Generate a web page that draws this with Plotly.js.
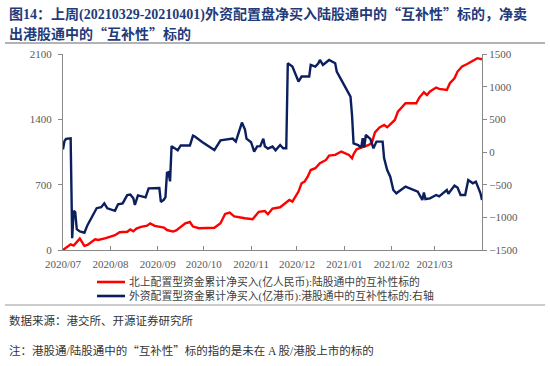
<!DOCTYPE html>
<html>
<head>
<meta charset="utf-8">
<script src="https://cdn.plot.ly/plotly-3.0.1.min.js"></script>
<style>html,body{margin:0;padding:0;background:#fff;}#chart{width:550px;height:366px;}</style>
</head>
<body>
<div id="chart"></div>
<script>
// ---- Data ----
const redDates = ["2020-07-01","2020-07-04","2020-07-06","2020-07-08","2020-07-10","2020-07-12","2020-07-15","2020-07-17","2020-07-22","2020-07-24","2020-07-29",
"2020-08-04","2020-08-07","2020-08-12","2020-08-14","2020-08-16","2020-08-18","2020-08-21","2020-08-25","2020-08-27","2020-08-30",
"2020-09-02","2020-09-05","2020-09-07","2020-09-11","2020-09-13","2020-09-15","2020-09-19","2020-09-22","2020-09-24","2020-09-28",
"2020-10-08","2020-10-12","2020-10-15","2020-10-18","2020-10-21","2020-10-28",
"2020-11-02","2020-11-06","2020-11-10","2020-11-12","2020-11-15","2020-11-20","2020-11-23","2020-11-26","2020-11-28",
"2020-12-02","2020-12-04","2020-12-06","2020-12-08","2020-12-10","2020-12-13","2020-12-16","2020-12-20","2020-12-22","2020-12-26","2020-12-30",
"2021-01-04","2021-01-06","2021-01-07","2021-01-09","2021-01-12","2021-01-17","2021-01-19","2021-01-21","2021-01-24","2021-01-27","2021-01-29",
"2021-02-01","2021-02-03","2021-02-05","2021-02-08","2021-02-10","2021-02-17","2021-02-19","2021-02-22","2021-02-24","2021-02-26","2021-02-28",
"2021-03-02","2021-03-04","2021-03-09","2021-03-11","2021-03-14","2021-03-16","2021-03-19","2021-03-22","2021-03-26","2021-03-29","2021-04-01"];
const redValues = [0,36,61,47,90,122,45,55,115,107,128,
158,190,195,220,200,230,248,260,285,258,
251,240,214,197,210,233,286,300,251,233,
238,286,386,400,360,340,
330,409,418,383,444,458,501,536,518,
626,715,733,786,857,876,929,965,1012,1019,1055,
1019,983,1026,1079,1097,1125,1150,1260,1312,1340,1315,
1358,1393,1483,1537,1572,1572,1633,1690,1661,1698,1715,
1741,1726,1715,1787,1840,1912,1966,1990,2026,2055,2044];

const navyDates = ["2020-07-01","2020-07-02","2020-07-03","2020-07-06","2020-07-07","2020-07-08","2020-07-09","2020-07-10","2020-07-12","2020-07-15","2020-07-17","2020-07-20","2020-07-23","2020-07-26","2020-07-28","2020-07-30",
"2020-08-04","2020-08-06","2020-08-09","2020-08-12","2020-08-14","2020-08-16","2020-08-17","2020-08-19","2020-08-24","2020-08-26","2020-08-31",
"2020-09-02","2020-09-03","2020-09-05","2020-09-06","2020-09-07","2020-09-08","2020-09-09","2020-09-10","2020-09-14","2020-09-16","2020-09-22","2020-09-24","2020-09-25","2020-09-30",
"2020-10-08","2020-10-12","2020-10-18","2020-10-20","2020-10-22","2020-10-25","2020-10-26","2020-10-28","2020-10-29",
"2020-11-01","2020-11-03","2020-11-05","2020-11-07","2020-11-09","2020-11-10","2020-11-12","2020-11-15","2020-11-17","2020-11-20","2020-11-22","2020-11-24","2020-11-25","2020-11-28",
"2020-12-02","2020-12-04","2020-12-07","2020-12-09","2020-12-10","2020-12-13","2020-12-15","2020-12-16","2020-12-18","2020-12-22","2020-12-26","2020-12-27","2020-12-30",
"2021-01-03","2021-01-05","2021-01-06","2021-01-07","2021-01-10","2021-01-12","2021-01-13","2021-01-14","2021-01-15","2021-01-18","2021-01-20","2021-01-22","2021-01-26","2021-01-27","2021-01-29","2021-01-31",
"2021-02-02","2021-02-04","2021-02-10","2021-02-15","2021-02-18","2021-02-21","2021-02-22","2021-02-23","2021-02-26",
"2021-03-02","2021-03-04","2021-03-09","2021-03-10","2021-03-14","2021-03-16","2021-03-18","2021-03-21","2021-03-23","2021-03-26","2021-03-28","2021-03-31","2021-04-01"];
const navyValues = [40,170,200,210,-1320,-900,-920,-1180,-1215,-1235,-1120,-980,-860,-845,-786,-862,
-900,-800,-786,-660,-650,-709,-811,-665,-695,-556,-556,
-550,-765,-730,-690,-320,-310,-450,90,26,100,100,250,240,153,
30,180,205,205,159,360,450,343,205,
150,5,87,90,205,87,52,83,26,107,57,57,1358,1308,
1078,1155,1155,1155,1332,1308,1358,1409,1332,1409,1358,1231,1103,
925,848,567,133,107,67,210,70,260,200,57,159,159,-96,-276,-377,
-582,-632,-530,-582,-606,-735,-620,-720,-709,
-658,-680,-582,-640,-515,-545,-658,-658,-429,-479,-453,-632,-735];

const tickDates = ["2020-07-01","2020-08-01","2020-09-01","2020-10-01","2020-11-01","2020-12-01","2021-01-01","2021-02-01","2021-03-01"];
const tickLabels = ["2020/07","2020/08","2020/09","2020/10","2020/11","2020/12","2021/01","2021/02","2021/03"];
const leftTicks = [0,700,1400,2100];
const rightTicks = [-1500,-1000,-500,0,500,1000,1500];
const seriesNames = ["北上配置型资金累计净买入(亿人民币):陆股通中的互补性标的","外资配置型资金累计净买入(亿港币):港股通中的互补性标的:右轴"];
const seriesColors = ["#ff0000", "#0b1f5e"];
const QL = "<span style=\"font-family:'Noto Sans CJK SC'\">“</span>";
const QR = "<span style=\"font-family:'Noto Sans CJK SC'\">”</span>";
const titleLines = ["图14：上周(20210329-20210401)外资配置盘净买入陆股通中的" + QL + "互补性" + QR + "标的，净卖",
                    "出港股通中的" + QL + "互补性" + QR + "标的"];
const sourceText = "数据来源：港交所、开源证券研究所";
const noteText = "注：港股通/陆股通中的" + QL + "互补性" + QR + "标的指的是未在 A 股/港股上市的标的";

// ---- Figure ----
const FONT = "Liberation Serif, 'Noto Sans CJK SC', serif";
const L = 63, R = 482, T = 54, B = 250;
const px2x = p => (p - L) / (R - L);
const px2y = p => (B - p) / (B - T);

const traces = [
  {x: redDates, y: redValues, type: "scatter", mode: "lines", name: seriesNames[0],
   line: {color: seriesColors[0], width: 2.4}, yaxis: "y"},
  {x: navyDates, y: navyValues, type: "scatter", mode: "lines", name: seriesNames[1],
   line: {color: seriesColors[1], width: 2.4}, yaxis: "y2"}
];

// legend drawn manually (compact spacing as in the reference)
const legendY = [282, 296];
const legendShapes = legendY.map((py, i) => ({type: "line", xref: "paper", yref: "paper",
  x0: px2x(97), x1: px2x(125), y0: px2y(py), y1: px2y(py), line: {color: seriesColors[i], width: 2.6}}));
const legendTexts = legendY.map((py, i) => ({text: seriesNames[i], xref: "paper", yref: "paper",
  x: px2x(127), y: px2y(py), xanchor: "left", yanchor: "middle", showarrow: false,
  font: {family: FONT, size: 10.8, color: "#404040"}}));

const layout = {
  width: 550, height: 366,
  margin: {l: L, r: 550 - R, t: T, b: 366 - B, pad: 0},
  paper_bgcolor: "#fff", plot_bgcolor: "#fff",
  showlegend: false,
  font: {family: FONT, color: "#404040", size: 11},
  xaxis: {type: "date", range: ["2020-07-01", "2021-04-01"], tickmode: "array",
    tickvals: tickDates, ticktext: tickLabels, ticks: "inside", ticklen: 4, tickcolor: "#888",
    showgrid: false, zeroline: false, showline: true, linecolor: "#888", linewidth: 1,
    ticklabelstandoff: 4,
    tickfont: {family: FONT, size: 11, color: "#595959"}, fixedrange: true},
  yaxis: {range: [0, 2100], tickmode: "array", tickvals: leftTicks, ticks: "outside", ticklen: 4, tickcolor: "#888",
    showgrid: false, zeroline: false, showline: true, linecolor: "#888", linewidth: 1,
    tickfont: {family: FONT, size: 11, color: "#595959"}, ticklabelstandoff: 4},
  yaxis2: {range: [-1500, 1500], tickmode: "array", tickvals: rightTicks, overlaying: "y", side: "right",
    ticks: "outside", ticklen: 4, tickcolor: "#888",
    showgrid: false, zeroline: false, showline: true, linecolor: "#888", linewidth: 1,
    tickfont: {family: FONT, size: 11, color: "#595959"}},
  shapes: [
    {type: "line", xref: "paper", yref: "paper", x0: px2x(5), x1: px2x(545), y0: px2y(43), y1: px2y(43),
     line: {color: "#9a9a9a", width: 1.5}},
    {type: "line", xref: "paper", yref: "paper", x0: px2x(5), x1: px2x(545), y0: px2y(305), y1: px2y(305),
     line: {color: "#9a9a9a", width: 1.2}}
  ].concat(legendShapes),
  annotations: [
    {text: "<b>" + titleLines[0] + "</b>", xref: "paper", yref: "paper", x: px2x(7), y: px2y(13),
     xanchor: "left", yanchor: "middle", showarrow: false, font: {family: FONT, size: 14, color: "#1f3b7a"}},
    {text: "<b>" + titleLines[1] + "</b>", xref: "paper", yref: "paper", x: px2x(7), y: px2y(33),
     xanchor: "left", yanchor: "middle", showarrow: false, font: {family: FONT, size: 14, color: "#1f3b7a"}},
    {text: sourceText, xref: "paper", yref: "paper", x: px2x(7), y: px2y(320),
     xanchor: "left", yanchor: "middle", showarrow: false, font: {family: FONT, size: 11.5, color: "#333"}},
    {text: noteText, xref: "paper", yref: "paper", x: px2x(7), y: px2y(350),
     xanchor: "left", yanchor: "middle", showarrow: false, font: {family: FONT, size: 11.5, color: "#333"}}
  ].concat(legendTexts)
};

Plotly.newPlot("chart", traces, layout, {staticPlot: true, displayModeBar: false});
</script>
</body>
</html>
